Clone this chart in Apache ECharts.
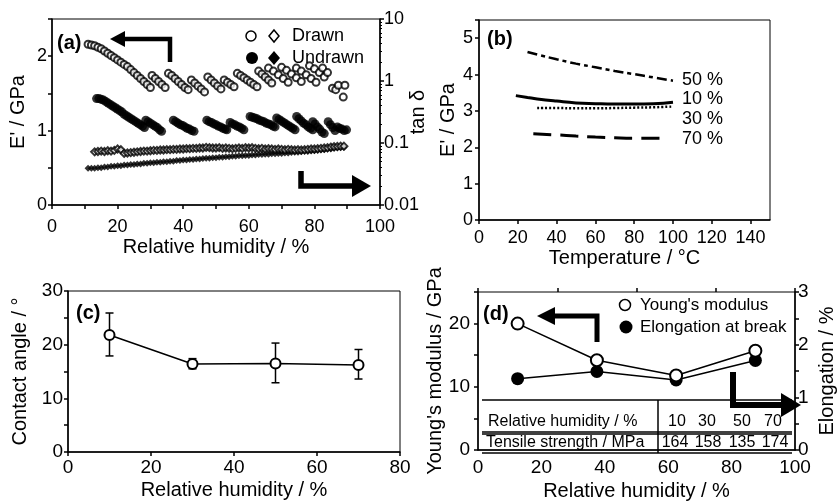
<!DOCTYPE html>
<html>
<head>
<meta charset="utf-8">
<script src="https://cdn.jsdelivr.net/npm/echarts@6/dist/echarts.min.js"></script>
<style>
html,body{margin:0;padding:0;background:#fff}
#main{width:838px;height:502px}
</style>
</head>
<body>
<div id="main"></div>
<script>
var FONT = '"Liberation Sans", Arial, sans-serif';
var black = '#000';

// ---- (a) E' and tan delta vs relative humidity
var drawnRH = [11,12,13,14,15,16,17,18,19,20,21,22,23,24,25,26,27,28,29,30,
  30.5,31.5,32.5,33.5,34.5,
  35.5,36.5,37.5,38.5,39.5,40.5,41.5,
  42.5,43.5,44.5,45.5,46.5,
  47.5,48.5,49.5,50.5,51.5,
  52.5,53.5,54.5,55.5,
  56.5,57.5,58.5,59.5,60.5,61.5,62.5,
  63,64,65,66,67,
  66,67.5,69,70.5,72,
  70,71.5,73,74.5,76,
  74.5,76,77.5,79,80.5,
  78.5,80,81.5,83,
  82.5,84,
  85.5,86.5,87.3,88.8,89.3];
var drawnE = [2.16,2.15,2.14,2.12,2.10,2.07,2.04,2.01,1.98,1.95,1.92,1.89,1.86,1.82,1.78,1.74,1.70,1.66,1.62,1.58,
  1.74,1.70,1.66,1.62,1.58,
  1.77,1.74,1.70,1.66,1.62,1.58,1.55,
  1.68,1.64,1.60,1.56,1.52,
  1.72,1.68,1.64,1.60,1.56,
  1.68,1.65,1.62,1.59,
  1.77,1.74,1.71,1.68,1.65,1.62,1.59,
  1.80,1.76,1.72,1.68,1.64,
  1.84,1.80,1.75,1.70,1.65,
  1.85,1.81,1.76,1.71,1.66,
  1.84,1.80,1.75,1.70,1.65,
  1.87,1.83,1.78,1.72,
  1.84,1.78,
  1.57,1.55,1.61,1.45,1.61];

var undrawnRH = [13.6,14.3,15,15.7,16.4,17.1,17.8,18.5,19.2,19.9,20.6,21.3,22,22.7,23.4,24.1,24.8,25.5,26.2,26.9,27.6,28.2,
  28.6,29.3,30,30.7,31.4,32.1,32.8,33.4,
  37,37.7,38.4,39.1,39.8,40.5,41.2,41.9,42.6,43.3,
  47.2,47.9,48.6,49.3,50,50.7,51.4,52.1,52.8,53.3,
  54.3,55,55.7,56.4,57.1,57.8,58.5,
  60.4,61.1,61.8,62.5,63.2,63.9,64.6,65.3,66,66.7,67.4,68,
  68.5,69.2,69.9,70.6,71.3,72,72.7,73.4,74.1,
  74.6,75.3,76,76.7,77.4,78.1,78.8,79.5,
  79.5,80.2,80.9,81.6,82.3,83,
  84.2,84.9,85.6,86.3,
  87,87.7,88.4,89.1,89.8];
var undrawnE = [1.43,1.43,1.42,1.41,1.39,1.37,1.35,1.33,1.31,1.29,1.27,1.25,1.22,1.20,1.18,1.16,1.14,1.12,1.10,1.08,1.06,1.04,
  1.14,1.12,1.10,1.08,1.06,1.04,1.01,0.99,
  1.14,1.12,1.10,1.08,1.07,1.05,1.03,1.02,1.00,0.99,
  1.14,1.12,1.11,1.09,1.08,1.06,1.05,1.03,1.02,1.01,
  1.11,1.09,1.08,1.06,1.05,1.03,1.01,
  1.19,1.18,1.17,1.16,1.14,1.13,1.12,1.10,1.09,1.08,1.06,1.05,
  1.17,1.15,1.13,1.11,1.09,1.07,1.05,1.03,1.01,
  1.19,1.16,1.13,1.10,1.08,1.05,1.03,1.01,
  1.12,1.09,1.05,1.02,0.98,0.96,
  1.12,1.08,1.04,1.00,
  1.05,1.03,1.02,1.00,1.01];

var drawnTanRH = [13,14,15,16,17,18,19,20,21,22,23,24,25,26,27,28,29,30,31,32,33,34,35,36,37,38,39,40,
  41,42,43,44,45,46,47,48,49,50,51,52,53,54,55,56,57,58,59,60,61,62,63,64,65,66,67,68,69,70,
  71,72,73,74,75,76,77,78,79,80,81,82,83,84,85,86,87,88,89];
var drawnTan = [0.072,0.073,0.074,0.073,0.075,0.074,0.076,0.080,0.078,0.068,0.069,0.070,0.071,0.072,0.073,0.074,0.074,0.075,0.076,0.076,0.077,0.077,0.078,0.078,0.079,0.079,0.080,0.080,
  0.081,0.081,0.082,0.082,0.083,0.083,0.085,0.084,0.083,0.083,0.084,0.082,0.083,0.082,0.081,0.082,0.083,0.082,0.084,0.083,0.084,0.082,0.081,0.082,0.080,0.081,0.080,0.079,0.080,0.079,
  0.078,0.079,0.078,0.077,0.078,0.077,0.078,0.079,0.080,0.080,0.081,0.082,0.083,0.084,0.086,0.087,0.088,0.089,0.089];

var undrawnTanRH = [11,12,13,14,15,16,17,18,19,20,21,22,23,24,25,26,27,28,29,30,31,32,33,34,35,36,37,38,39,40,
  41,42,43,44,45,46,47,48,49,50,51,52,53,54,55,56,57,58,59,60,61,62,63,64,65,66,67,68,69,70,
  71,72,73,74,75,76,77,78,79,80,81,82,83,84,85,86,87,88,89];
var undrawnTan = [0.039,0.039,0.039,0.040,0.040,0.041,0.041,0.042,0.042,0.043,0.043,0.044,0.044,0.045,0.045,0.046,0.046,0.047,0.047,0.048,0.048,0.049,0.049,0.050,0.050,0.051,0.051,0.052,0.052,0.053,
  0.053,0.054,0.054,0.055,0.055,0.056,0.057,0.057,0.058,0.058,0.059,0.059,0.060,0.060,0.061,0.061,0.062,0.062,0.063,0.063,0.064,0.064,0.065,0.065,0.066,0.066,0.067,0.067,0.068,0.068,
  0.069,0.069,0.070,0.071,0.071,0.072,0.073,0.073,0.074,0.075,0.076,0.077,0.078,0.079,0.080,0.082,0.083,0.084,0.085];

// ---- (b) E' vs temperature
var t50 = [25,30,40,50,60,70,80,90,100];
var e50 = [4.62,4.55,4.42,4.30,4.20,4.10,4.01,3.92,3.83];
var t10 = [19,25,30,40,50,60,70,80,90,100];
var e10 = [3.42,3.37,3.33,3.27,3.22,3.20,3.19,3.19,3.20,3.24];
var t30 = [30,40,50,60,70,80,90,100];
var e30 = [3.08,3.08,3.07,3.07,3.08,3.09,3.10,3.12];
var t70 = [28,40,50,60,70,80,90,96];
var e70 = [2.37,2.34,2.31,2.28,2.26,2.25,2.25,2.25];
var bLabels = ['50 %', '10 %', '30 %', '70 %'];

// ---- (c) contact angle
var cRH = [10, 30, 50, 70];
var cAngle = [21.8, 16.4, 16.5, 16.2];
var cLow = [17.9, 15.5, 12.9, 13.6];
var cHigh = [25.9, 17.4, 20.3, 19.1];

// ---- (d) Young's modulus / elongation
var dX = [12.5, 37.5, 62.5, 87.5];
var dYoung = [20.0, 14.2, 11.8, 15.7];
var dElong = [1.355, 1.49, 1.33, 1.70];
var tableRH = ['10', '30', '50', '70'];
var tableTS = ['164', '158', '135', '174'];

function zip(a, b) {
  var out = [];
  for (var i = 0; i < a.length; i++) out.push([a[i], b[i]]);
  return out;
}

function axis(o) {
  var a = {
    axisLine: {show: true, onZero: false, lineStyle: {color: black, width: 1.5}},
    axisTick: {show: true, inside: false, length: 4, lineStyle: {color: black, width: 1.5}},
    axisLabel: {color: black, fontSize: 18, fontFamily: FONT, margin: 5},
    splitLine: {show: false},
    nameLocation: 'middle',
    nameMoveOverlap: false,
    nameTextStyle: {color: black, fontSize: 20, fontFamily: FONT}
  };
  for (var k in o) {
    if (a[k] && typeof a[k] === 'object' && typeof o[k] === 'object' && !Array.isArray(o[k])) {
      a[k] = Object.assign({}, a[k], o[k]);
    } else {
      a[k] = o[k];
    }
  }
  return a;
}
function onlyMult(m) {
  return function (v) { return Math.abs(v / m - Math.round(v / m)) < 1e-6 ? String(v) : ''; };
}

var box = {show: true, borderColor: black, borderWidth: 1, backgroundColor: 'transparent'};

var txt = function (x, y, s, size, extra) {
  var st = {text: s, x: x, y: y, fill: black, font: (size || 17) + 'px ' + FONT, textVerticalAlign: 'middle'};
  for (var k in extra) st[k] = extra[k];
  return {type: 'text', style: st, z: 100};
};
var bold = function (x, y, s) {
  return {type: 'text', style: {text: s, x: x, y: y, fill: black, font: 'bold 20px ' + FONT, textVerticalAlign: 'middle'}, z: 100};
};
var pline = function (pts, w) {
  return {type: 'polyline', shape: {points: pts}, style: {stroke: black, lineWidth: w || 5, fill: null, lineJoin: 'miter', lineCap: 'butt'}, z: 100};
};
var poly = function (pts) {
  return {type: 'polygon', shape: {points: pts}, style: {fill: black}, z: 100};
};
var hline = function (x1, x2, y, w) {
  return {type: 'line', shape: {x1: x1, y1: y, x2: x2, y2: y}, style: {stroke: black, lineWidth: w || 1.5}, z: 100};
};

var graphics = [
  bold(57, 43, '(a)'), bold(487, 39, '(b)'), bold(76, 313, '(c)'), bold(483, 314, '(d)'),
  // (a) legend
  {type: 'circle', shape: {cx: 251, cy: 36, r: 5}, style: {fill: '#fff', stroke: black, lineWidth: 1.5}, z: 100},
  {type: 'polygon', shape: {points: [[274, 30], [279, 36], [274, 42], [269, 36]]}, style: {fill: '#fff', stroke: black, lineWidth: 1.5}, z: 101},
  txt(292, 36, 'Drawn', 18),
  {type: 'circle', shape: {cx: 252, cy: 58, r: 6}, style: {fill: black}, z: 100},
  poly([[274, 51], [280, 58], [274, 65], [268, 58]]),
  txt(292, 58, 'Undrawn', 18),
  // (a) arrows
  pline([[122, 39], [170, 39], [170, 62]], 4.5),
  poly([[110, 39], [125, 31], [125, 47]]),
  pline([[301, 171], [301, 186], [354, 186]], 5.5),
  poly([[371, 186], [352, 175], [352, 197]]),
  // (b) line labels
  txt(682, 80, bLabels[0], 18), txt(682, 99, bLabels[1], 18),
  txt(682, 119, bLabels[2], 18), txt(682, 139, bLabels[3], 18),
  // (d) legend
  {type: 'circle', shape: {cx: 625, cy: 305, r: 5.5}, style: {fill: '#fff', stroke: black, lineWidth: 1.5}, z: 100},
  txt(640, 305, "Young's modulus", 17),
  {type: 'circle', shape: {cx: 626, cy: 327, r: 6.5}, style: {fill: black}, z: 100},
  txt(640, 327, 'Elongation at break', 17),
  // (d) arrows
  pline([[553, 316], [597, 316], [597, 342]], 5),
  poly([[537, 316], [555, 307], [555, 325]]),
  pline([[733, 372], [733, 405], [783, 405]], 6),
  poly([[801, 405], [781, 393], [781, 417]]),
  // (d) table
  hline(482, 792, 400), hline(482, 792, 432), hline(482, 792, 434),
  hline(482, 792, 453),
  {type: 'line', shape: {x1: 658, y1: 400, x2: 658, y2: 453}, style: {stroke: black, lineWidth: 1.5}, z: 100},
  txt(488, 422, 'Relative humidity / %', 16),
  txt(486, 443, 'Tensile strength / MPa', 16)
];
var rhX = [677, 707, 742, 773];
var tsX = [675, 708, 742, 775];
for (var i = 0; i < 4; i++) {
  graphics.push(txt(rhX[i], 422, tableRH[i], 16, {textAlign: 'center'}));
  graphics.push(txt(tsX[i], 443, tableTS[i], 16, {textAlign: 'center'}));
}

var chart = echarts.init(document.getElementById('main'));
chart.setOption({
  backgroundColor: '#fff',
  animation: false,
  textStyle: {fontFamily: FONT},
  grid: [
    Object.assign({left: 52, top: 19, width: 328, height: 186}, box),
    Object.assign({left: 479, top: 20, width: 291, height: 200}, box),
    Object.assign({left: 68, top: 291, width: 332, height: 161}, box),
    Object.assign({left: 478, top: 292, width: 322, height: 166}, box)
  ],
  xAxis: [
    axis({gridIndex: 0, type: 'value', min: 0, max: 100, interval: 10,
      axisLabel: {formatter: onlyMult(20), margin: 13},
      name: 'Relative humidity / %', nameGap: 32}),
    axis({gridIndex: 1, type: 'value', min: 0, max: 150, interval: 20,
      axisLabel: {margin: 9, showMaxLabel: false, formatter: function (v) { return v <= 140 ? String(v) : ''; }},
      name: 'Temperature / \u00b0C', nameGap: 28}),
    axis({gridIndex: 2, type: 'value', min: 0, max: 80, interval: 20,
      axisLabel: {margin: 6, fontSize: 19},
      name: 'Relative humidity / %', nameGap: 28}),
    axis({gridIndex: 3, type: 'value', min: 0, max: 100, interval: 20,
      axisTick: {show: false}, axisLabel: {margin: 8, fontSize: 19},
      name: 'Relative humidity / %', nameGap: 31}),
    axis({gridIndex: 3, type: 'value', min: 0, max: 100, interval: 25,
      axisLine: {show: false}, axisLabel: {show: false}})
  ],
  yAxis: [
    axis({gridIndex: 0, type: 'value', min: 0, max: 2.5, interval: 0.5,
      axisLabel: {formatter: onlyMult(1)},
      name: "E' / GPa", nameGap: 24}),
    axis({gridIndex: 0, type: 'log', logBase: 10, min: 0.01, max: 10, position: 'right',
      axisLabel: {margin: 4, formatter: function (v) { return String(v); }},
      minorTick: {show: true, splitNumber: 9, length: 2, lineStyle: {color: black, width: 1}},
      name: 'tan \u03b4', nameGap: 28, nameRotate: 90}),
    axis({gridIndex: 1, type: 'value', min: 0, max: 5.5, interval: 1,
      axisLabel: {formatter: onlyMult(1), margin: 6},
      name: "E' / GPa", nameGap: 21}),
    axis({gridIndex: 2, type: 'value', min: 0, max: 30, interval: 5,
      axisLabel: {formatter: onlyMult(10), fontSize: 19},
      name: 'Contact angle / \u00b0', nameGap: 38}),
    axis({gridIndex: 3, type: 'value', min: 0, max: 25, interval: 5,
      axisLabel: {formatter: onlyMult(10), margin: 8, fontSize: 19},
      name: "Young's modulus / GPa", nameGap: 33}),
    axis({gridIndex: 3, type: 'value', min: 0, max: 3, interval: 0.5, position: 'right',
      axisLabel: {formatter: onlyMult(1), margin: 3, fontSize: 19},
      name: 'Elongation / %', nameGap: 22, nameRotate: 90})
  ],
  graphic: graphics,
  series: [
    {type: 'scatter', xAxisIndex: 0, yAxisIndex: 1, data: zip(undrawnTanRH, undrawnTan),
      symbol: 'diamond', symbolSize: 7, itemStyle: {color: black}},
    {type: 'scatter', xAxisIndex: 0, yAxisIndex: 1, data: zip(drawnTanRH, drawnTan),
      symbol: 'emptyDiamond', symbolSize: 7, itemStyle: {color: black, borderWidth: 1}},
    {type: 'scatter', xAxisIndex: 0, yAxisIndex: 0, data: zip(undrawnRH, undrawnE),
      symbol: 'circle', symbolSize: 9, itemStyle: {color: black}},
    {type: 'scatter', xAxisIndex: 0, yAxisIndex: 0, data: zip(drawnRH, drawnE),
      symbol: 'emptyCircle', symbolSize: 7, itemStyle: {color: black, borderWidth: 1.2}},

    {type: 'line', xAxisIndex: 1, yAxisIndex: 2, data: zip(t50, e50), showSymbol: false, smooth: true,
      lineStyle: {color: black, width: 2.5, type: [10, 4, 4, 4]}},
    {type: 'line', xAxisIndex: 1, yAxisIndex: 2, data: zip(t10, e10), showSymbol: false, smooth: true,
      lineStyle: {color: black, width: 3}},
    {type: 'line', xAxisIndex: 1, yAxisIndex: 2, data: zip(t30, e30), showSymbol: false, smooth: true,
      lineStyle: {color: black, width: 2.5, type: [2, 2]}},
    {type: 'line', xAxisIndex: 1, yAxisIndex: 2, data: zip(t70, e70), showSymbol: false, smooth: true,
      lineStyle: {color: black, width: 3, type: [18, 9]}},

    {type: 'custom', xAxisIndex: 2, yAxisIndex: 3, z: 1,
      data: cRH.map(function (x, i) { return [x, cLow[i], cHigh[i]]; }),
      encode: {x: 0, y: [1, 2]},
      renderItem: function (params, api) {
        var lo = api.coord([api.value(0), api.value(1)]);
        var hi = api.coord([api.value(0), api.value(2)]);
        var w = 4, st = {stroke: black, lineWidth: 1.5};
        return {type: 'group', children: [
          {type: 'line', shape: {x1: lo[0], y1: lo[1], x2: hi[0], y2: hi[1]}, style: st},
          {type: 'line', shape: {x1: lo[0] - w, y1: lo[1], x2: lo[0] + w, y2: lo[1]}, style: st},
          {type: 'line', shape: {x1: hi[0] - w, y1: hi[1], x2: hi[0] + w, y2: hi[1]}, style: st}
        ]};
      }},
    {type: 'line', xAxisIndex: 2, yAxisIndex: 3, data: zip(cRH, cAngle), z: 3,
      symbol: 'emptyCircle', symbolSize: 10, lineStyle: {color: black, width: 1.5},
      itemStyle: {color: black, borderWidth: 1.5}},

    {type: 'line', xAxisIndex: 3, yAxisIndex: 5, data: zip(dX, dElong), z: 3,
      symbol: 'circle', symbolSize: 13, lineStyle: {color: black, width: 1.5},
      itemStyle: {color: black}},
    {type: 'line', xAxisIndex: 3, yAxisIndex: 4, data: zip(dX, dYoung), z: 4,
      symbol: 'emptyCircle', symbolSize: 12, lineStyle: {color: black, width: 1.5},
      itemStyle: {color: black, borderWidth: 1.5}}
  ]
});
window.addEventListener('resize', function () { chart.resize(); });
</script>
</body>
</html>
